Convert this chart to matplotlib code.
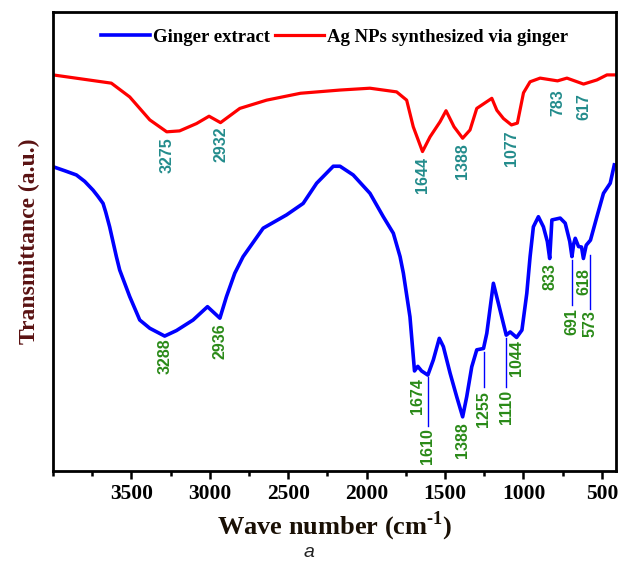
import matplotlib
matplotlib.use("Agg")
import matplotlib.pyplot as plt
from matplotlib.ticker import MultipleLocator

# FTIR spectra, wavenumber (cm-1) vs transmittance (a.u.)
wn_ginger = [4000, 3924, 3851, 3798, 3745, 3715, 3681, 3664, 3639, 3596, 3575,
             3511, 3447, 3383, 3288, 3213, 3107, 3015, 2936, 2894, 2841, 2788,
             2660, 2511, 2405, 2319, 2213, 2170, 2086, 1979, 1894, 1830, 1787,
             1766, 1724, 1695, 1674, 1650, 1610, 1575, 1537, 1511, 1468, 1426,
             1388, 1362, 1330, 1298, 1255, 1234, 1192, 1160, 1110, 1085, 1044,
             1010, 979, 958, 937, 905, 873, 848, 833, 825, 819, 766, 734, 705,
             691, 680, 670, 649, 630, 618, 600, 573, 532, 490, 447, 421]
t_ginger = [66.3, 65.4, 64.5, 63.1, 61.2, 59.9, 58.3, 56.4, 53.2, 46.7, 43.8,
            38.0, 32.9, 31.1, 29.4, 30.6, 32.9, 35.8, 33.3, 38.0, 43.1, 46.7,
            52.9, 55.8, 58.3, 62.7, 66.4, 66.4, 64.5, 60.5, 55.4, 51.8, 46.7,
            43.1, 33.6, 21.8, 22.8, 21.8, 20.9, 24.2, 28.9, 27.1, 21.3, 16.2,
            11.8, 16.2, 22.7, 26.4, 26.7, 30.0, 40.9, 36.5, 29.6, 30.3, 29.1,
            30.7, 38.7, 46.7, 53.2, 55.4, 53.2, 50.0, 46.3, 51.0, 54.7, 55.1,
            54.0, 50.0, 46.7, 49.5, 50.7, 48.9, 48.8, 46.3, 49.2, 50.3, 55.4,
            60.5, 62.7, 66.7]

wn_agnp = [4000, 3628, 3511, 3383, 3275, 3193, 3085, 3005, 2932, 2809, 2638,
           2422, 2170, 1979, 1809, 1745, 1703, 1644, 1596, 1532, 1494, 1443,
           1388, 1341, 1298, 1202, 1170, 1128, 1077, 1039, 1000, 958, 894, 783,
           723, 617, 532, 468, 415]
t_agnp = [86.3, 84.5, 81.5, 76.5, 73.9, 74.1, 75.7, 77.3, 75.9, 79.0, 80.8,
          82.3, 83.0, 83.4, 82.6, 80.8, 75.0, 69.6, 72.8, 76.1, 78.5, 75.0,
          72.5, 74.3, 79.0, 81.2, 78.6, 76.8, 75.4, 75.8, 82.4, 84.8, 85.6, 85.0,
          85.6, 84.3, 85.2, 86.3, 86.3]

# peak labels: position, label top (a.u.)
agnp_peaks = [3275, 2932, 1644, 1388, 1077, 783, 617]
agnp_label_y = [72.8, 75.0, 68.5, 71.5, 74.3, 83.2, 82.4]

ginger_peaks = [3288, 2936, 1674, 1610, 1388, 1255, 1110, 1044, 833, 691, 618, 573]
ginger_label_y = [28.8, 32.3, 20.2, 9.4, 10.7, 17.3, 17.6, 28.5, 45.3, 35.4, 44.2, 35.1]
# leader lines for crowded peaks: (peak, line top, line bottom)
ginger_leaders = [(1610, 20.5, 9.7), (1255, 26.0, 18.4), (1110, 28.9, 18.4),
                  (691, 46.0, 36.2), (573, 47.1, 35.4)]

fig = plt.figure(figsize=(6.18, 5.67), dpi=100)
ax = fig.add_axes([0.0858, 0.1693, 0.9110, 0.8095])

ax.plot(wn_ginger, t_ginger, color="#0000ff", lw=2.6, solid_joinstyle="round",
        label="Ginger extract")
ax.plot(wn_agnp, t_agnp, color="#ff0000", lw=2.3, solid_joinstyle="round",
        label="Ag NPs synthesized via ginger")

lab_font = dict(family="Liberation Sans", weight="bold", size=11.5)
for p, y in zip(agnp_peaks, agnp_label_y):
    ax.text(p, y, str(p), rotation=90, ha="center", va="top",
            color="#238c8c", **lab_font)
for p, y in zip(ginger_peaks, ginger_label_y):
    ax.text(p, y, str(p), rotation=90, ha="center", va="top",
            color="#2a8a18", **lab_font)
for p, y0, y1 in ginger_leaders:
    ax.plot([p, p], [y0, y1], color="#0000ff", lw=1)

ax.set_xlim(4000, 410)
ax.set_ylim(0, 100)
ax.xaxis.set_major_locator(MultipleLocator(500))
ax.xaxis.set_minor_locator(MultipleLocator(250))
ax.set_xticks([3500, 3000, 2500, 2000, 1500, 1000, 500])
ax.set_yticks([])
ax.tick_params(axis="x", which="major", direction="out", length=6, width=1.8)
ax.tick_params(axis="x", which="minor", direction="out", length=3.5, width=1.8)
for lbl in ax.get_xticklabels():
    lbl.set_fontfamily("Liberation Serif")
    lbl.set_fontweight("bold")
    lbl.set_fontsize(15.5)
for s in ax.spines.values():
    s.set_linewidth(2)

ax.set_xlabel("Wave number (cm$^{\\mathregular{\u2010}\\mathregular{1}}$)",
              family="Liberation Serif", weight="bold", size=19,
              color="#1a1005", labelpad=4)
ax.set_ylabel("Transmittance (a.u.)", family="Liberation Serif",
              weight="bold", size=17, color="#5a1212", labelpad=9)

ax.legend(loc="upper center", bbox_to_anchor=(0.5, 1.0), ncol=2, frameon=False,
          prop=dict(family="Liberation Serif", weight="bold", size=13.5),
          handlelength=2.6, handletextpad=0.15, columnspacing=0.3,
          borderaxespad=0.5)

fig.text(0.5, 0.025, "a", ha="center", va="center", style="italic",
         family="Liberation Sans", size=14, color="#222222")

fig.savefig("out.png", dpi=100)
